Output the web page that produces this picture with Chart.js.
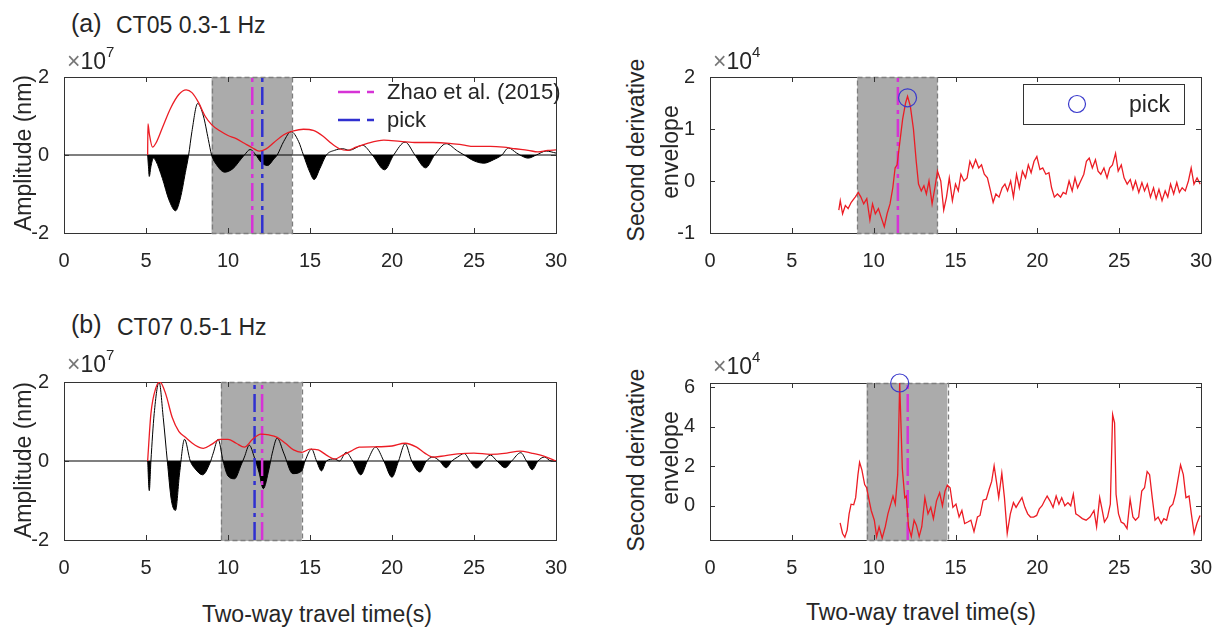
<!DOCTYPE html>
<html>
<head>
<meta charset="utf-8">
<title>CT05 / CT07 picks</title>
<script src="https://cdn.jsdelivr.net/npm/chart.js@4.4.1/dist/chart.umd.min.js"></script>
<style>
  body { margin: 0; background: #fff; }
  #fig { position: relative; width: 1219px; height: 629px; overflow: hidden; font-family: "Liberation Sans", Arial, Helvetica, sans-serif; color: #262626; }
  #fig canvas { position: absolute; }
  .t { position: absolute; white-space: nowrap; line-height: 1; }
  .c { transform: translate(-50%, -50%); }
  .l { transform: translateY(-50%); }
  .r { transform: translate(-50%, -50%) rotate(-90deg); }
  .x { color: #777; }
  #marks { position: absolute; left: 0; top: 0; }
</style>
</head>
<body>
<div id="fig">
  <canvas id="ct05Wave" width="572" height="215" style="left:4px;top:58px"></canvas>
  <canvas id="ct05Deriv" width="571" height="215" style="left:650px;top:58px"></canvas>
  <canvas id="ct07Wave" width="572" height="217" style="left:4px;top:363px"></canvas>
  <canvas id="ct07Deriv" width="571" height="216" style="left:650px;top:364px"></canvas>

  <!-- panel titles -->
  <div class="t l" style="left:71px;top:23px;font-size:25px">(a)</div>
  <div class="t l" style="left:116px;top:25px;font-size:23px">CT05 0.3-1 Hz</div>
  <div class="t l" style="left:71px;top:324px;font-size:25px">(b)</div>
  <div class="t l" style="left:117px;top:327px;font-size:23px">CT07 0.5-1 Hz</div>

  <!-- axis exponents -->
  <div class="t l" style="left:67px;top:61px;font-size:23px"><span class="x">×</span>10</div>
  <div class="t l" style="left:106px;top:51px;font-size:15px">7</div>
  <div class="t l" style="left:713px;top:61px;font-size:23px"><span class="x">×</span>10</div>
  <div class="t l" style="left:752px;top:51px;font-size:15px">4</div>
  <div class="t l" style="left:67px;top:364px;font-size:23px"><span class="x">×</span>10</div>
  <div class="t l" style="left:106px;top:354px;font-size:15px">7</div>
  <div class="t l" style="left:713px;top:366px;font-size:23px"><span class="x">×</span>10</div>
  <div class="t l" style="left:752px;top:356px;font-size:15px">4</div>

  <!-- axis titles -->
  <div class="t r" style="left:23px;top:153px;font-size:23px">Amplitude (nm)</div>
  <div class="t r" style="left:23px;top:460px;font-size:23px">Amplitude (nm)</div>
  <div class="t r" style="left:636px;top:150px;font-size:23px">Second derivative</div>
  <div class="t r" style="left:670px;top:152px;font-size:23px">envelope</div>
  <div class="t r" style="left:636px;top:460px;font-size:23px">Second derivative</div>
  <div class="t r" style="left:670px;top:458px;font-size:23px">envelope</div>
  <div class="t c" style="left:317px;top:614px;font-size:23px">Two-way travel time(s)</div>
  <div class="t c" style="left:921px;top:612px;font-size:23px">Two-way travel time(s)</div>

  <!-- legends -->
  <svg id="marks" width="1219" height="629">
    <line x1="338" y1="92" x2="375" y2="92" stroke="#d633d6" stroke-width="2.5" stroke-dasharray="22 7 7 20"/>
    <line x1="338" y1="120" x2="375" y2="120" stroke="#3030d0" stroke-width="2.5" stroke-dasharray="22 7 7 20"/>
    <rect x="1023.5" y="84.5" width="161" height="40" fill="#fff" stroke="#333" stroke-width="1"/>
    <circle cx="1077" cy="104" r="8.5" fill="none" stroke="#3a3acc" stroke-width="1.2"/>
  </svg>
  <div class="t l" style="left:387px;top:92px;font-size:22px">Zhao et al. (2015)</div>
  <div class="t l" style="left:387px;top:120px;font-size:22px">pick</div>
  <div class="t l" style="left:1129px;top:104px;font-size:23px">pick</div>
</div>

<script>
// tick positions
const ticksX = [0, 5, 10, 15, 20, 25, 30];
const ticksAmp = [-2, 0, 2];
const ticksDeriv05 = [-1, 0, 1, 2];
const ticksDeriv07 = [0, 2, 4, 6];
const rangeAmp = [-2, 2];
const rangeDeriv05 = [-1, 2];
const rangeDeriv07 = [-1.72, 6.21];

// CT05 0.3-1 Hz waveform (x1e7 nm)
const ct05Time = [5.1, 5.15, 5.2, 5.3, 5.45, 5.6, 6.0, 6.4, 6.8, 7.1, 7.4, 7.6, 7.8, 8.15, 8.5, 8.8, 9.0, 9.3, 9.8, 10.3,
  10.8, 11.0, 11.35, 11.7, 12.0, 12.4, 12.8, 13.0, 13.4, 13.85, 14.3, 14.6, 15.0, 15.25, 15.6, 16.0, 16.5, 17.0, 17.4, 18.2,
  18.8, 19.55, 20.1, 20.8, 21.4, 22.05, 22.6, 23.3, 24.0, 24.4, 25.0, 25.6, 26.2, 26.7, 27.1, 27.6, 27.8, 28.3, 28.8, 29.4, 30];
const ct05Trace = [0, -0.3, -0.55, -0.3, -0.08, -0.15, -0.6, -1.15, -1.43, -1.1, -0.45, 0, 0.6, 1.32, 1.0, 0.4, 0, -0.25, -0.44, -0.35,
  -0.1, 0, 0.14, 0, -0.18, -0.27, -0.1, 0, 0.35, 0.6, 0.35, 0, -0.45, -0.63, -0.35, 0, 0.12, 0.16, 0.12, 0.25,
  0, -0.38, 0, 0.33, 0, -0.33, 0, 0.29, 0.1, 0, -0.15, -0.21, -0.12, 0, 0.18, 0.05, 0, -0.08, 0, 0.1, 0.05];
const ct05EnvTime = [5.1, 5.12, 5.2, 5.4, 5.6, 6.0, 6.5, 7.0, 7.45, 7.8, 8.2, 8.6, 9.0, 9.5, 10.0, 10.5, 11.0, 11.5, 11.9, 12.3,
  12.8, 13.4, 14.0, 14.6, 15.2, 15.8, 16.3, 16.8, 17.3, 17.8, 18.5, 19.5, 20.5, 21.5, 22.5, 23.5, 24.3, 25.0, 26.0, 26.8,
  27.5, 28.3, 28.9, 29.5, 30];
const ct05Env = [0, 0.8, 0.55, 0.2, 0.3, 0.7, 1.2, 1.55, 1.67, 1.6, 1.35, 1.0, 0.78, 0.62, 0.5, 0.42, 0.3, 0.18, 0.1, 0.15,
  0.32, 0.52, 0.62, 0.66, 0.63, 0.48, 0.3, 0.16, 0.12, 0.2, 0.3, 0.38, 0.35, 0.32, 0.32, 0.3, 0.26, 0.22, 0.22, 0.2,
  0.16, 0.12, 0.08, 0.12, 0.13];
const ct05Window = [9, 13.9];
const ct05Zhao = 11.48;
const ct05Pick = 12.09;

// CT05 second derivative envelope (x1e4)
const ct05DerivTime = [7.87, 7.96, 8.1, 8.27, 8.44, 8.63, 8.87, 9.06, 9.22, 9.39, 9.58, 9.77, 9.93, 10.1, 10.29, 10.45, 10.65, 10.82, 11.0, 11.17,
  11.31, 11.43, 11.6, 11.77, 11.95, 12.07, 12.24, 12.43, 12.6, 12.74, 12.91, 13.07, 13.22, 13.38, 13.57, 13.74, 13.9, 14.1, 14.28, 14.45,
  14.62, 14.81, 15.0, 15.17, 15.33, 15.52, 15.71, 15.88, 16.05, 16.23, 16.42, 16.59, 16.76, 16.95, 17.14, 17.3, 17.47, 17.66, 17.85, 18.02,
  18.18, 18.37, 18.54, 18.73, 18.9, 19.09, 19.28, 19.45, 19.62, 19.8, 19.97, 20.16, 20.33, 20.52, 20.71, 20.87, 21.04, 21.23, 21.42, 21.58,
  21.75, 21.94, 22.13, 22.3, 22.46, 22.65, 22.84, 23.0, 23.17, 23.36, 23.55, 23.71, 23.88, 24.07, 24.26, 24.42, 24.59, 24.78, 24.94, 25.13,
  25.3, 25.49, 25.68, 25.84, 26.0, 26.2, 26.39, 26.55, 26.72, 26.91, 27.1, 27.26, 27.43, 27.62, 27.81, 27.97, 28.14, 28.33, 28.52, 28.68,
  28.85, 29.04, 29.23, 29.4, 29.57, 29.76, 29.95];
const ct05Deriv = [-0.56, -0.38, -0.63, -0.47, -0.53, -0.41, -0.31, -0.22, -0.31, -0.44, -0.34, -0.75, -0.44, -0.63, -0.53, -0.69, -0.88, -0.63, -0.44, -0.13,
  0.25, 0.31, 0.75, 1.19, 1.5, 1.63, 1.44, 1.0, 0.38, -0.06, -0.19, -0.09, -0.25, 0, -0.44, -0.13, 0.19, 0, -0.56, -0.31,
  0.06, -0.38, -0.06, -0.19, 0.13, 0, 0.06, 0.38, 0.25, 0.41, 0.25, 0.31, 0.13, 0.06, -0.19, -0.41, -0.25, -0.31, -0.13, -0.06,
  -0.19, 0, -0.31, 0.13, -0.13, 0.19, 0.06, 0.31, 0.16, 0.38, 0.47, 0.22, 0.25, 0.13, 0.16, -0.13, -0.31, -0.25, -0.31, -0.22,
  -0.25, 0, -0.19, 0.06, -0.13, 0, 0.13, 0.38, 0.44, 0.25, 0.41, 0.19, 0.13, 0.25, 0.06, 0.25, 0.31, 0.53, 0.19, 0.31,
  0.06, -0.06, 0.03, -0.16, 0, -0.22, -0.03, -0.19, -0.06, -0.31, -0.13, -0.34, -0.16, -0.38, -0.19, -0.31, -0.06, -0.25, -0.03, -0.22,
  -0.13, -0.19, 0, 0.25, -0.06, 0.06, -0.06];
const ct05PickMark = [12.07, 1.6];

// CT07 0.5-1 Hz waveform (x1e7 nm)
const ct07Time = [5.1, 5.2, 5.3, 5.5, 5.8, 6.05, 6.3, 6.55, 6.8, 7.05, 7.35, 7.7, 8.0, 8.45, 8.9, 9.1, 9.4, 9.7, 10.0, 10.4,
  10.8, 11.0, 11.3, 11.6, 11.9, 12.15, 12.5, 12.7, 13.0, 13.4, 13.95, 14.5, 14.7, 15.1, 15.4, 15.7, 16.0, 16.5, 16.8, 17.2,
  17.6, 18.1, 18.5, 19.0, 19.5, 20.0, 20.4, 20.8, 21.2, 21.7, 22.1, 22.5, 22.9, 23.3, 23.65, 24.0, 24.4, 24.75, 25.15, 25.6,
  26.0, 26.4, 26.9, 27.3, 27.85, 28.2, 28.55, 28.9, 29.3, 29.7, 30];
const ct07Trace = [0, -0.75, 0, 1.2, 2.0, 1.1, 0, -1.0, -1.25, -0.3, 0.55, 0, -0.2, -0.35, -0.05, 0.2, 0.55, 0, -0.38, -0.45,
  -0.1, 0.1, 0.4, 0.1, -0.3, -0.7, -0.2, 0.2, 0.58, 0.2, -0.32, -0.25, 0, 0.3, 0, -0.25, 0, 0.05, 0, 0.22,
  0, -0.35, 0, 0.35, 0, -0.41, 0, 0.44, 0, -0.28, 0, 0.1, 0, -0.17, 0, 0.1, 0.19, 0, -0.18, 0,
  0.15, 0, -0.17, 0, 0.21, 0, -0.22, 0, 0.1, 0, 0];
const ct07EnvTime = [5.1, 5.3, 5.6, 5.85, 6.2, 6.6, 7.0, 7.4, 8.0, 8.5, 9.0, 9.5, 10.0, 10.5, 11.0, 11.5, 12.0, 12.5, 13.0, 13.5,
  14.0, 14.5, 15.0, 15.5, 16.0, 16.5, 17.0, 17.5, 18.0, 19.0, 20.0, 20.8, 21.5, 22.0, 22.5, 23.0, 24.0, 25.0, 26.0, 27.0,
  27.8, 28.5, 29.3, 30];
const ct07Env = [0, 1.2, 1.85, 2.0, 1.7, 1.1, 0.75, 0.6, 0.4, 0.32, 0.42, 0.55, 0.55, 0.45, 0.35, 0.55, 0.68, 0.66, 0.6, 0.45,
  0.28, 0.22, 0.3, 0.28, 0.15, 0.05, 0.15, 0.25, 0.35, 0.36, 0.38, 0.45, 0.35, 0.2, 0.1, 0.12, 0.18, 0.2, 0.17, 0.2,
  0.25, 0.2, 0.12, 0];
const ct07Window = [9.57, 14.5];
const ct07Zhao = 12.08;
const ct07Pick = 11.62;

// CT07 second derivative envelope (x1e4)
const ct07DerivTime = [7.95, 8.1, 8.24, 8.38, 8.5, 8.62, 8.78, 8.9, 9.04, 9.14, 9.28, 9.45, 9.57, 9.69, 9.85, 10.04, 10.18, 10.33, 10.52, 10.71,
  10.87, 11.04, 11.18, 11.32, 11.47, 11.59, 11.75, 11.9, 11.99, 12.13, 12.3, 12.47, 12.61, 12.78, 12.94, 13.13, 13.32, 13.49, 13.65, 13.84,
  14.03, 14.2, 14.36, 14.5, 14.67, 14.84, 15.03, 15.22, 15.39, 15.56, 15.75, 15.94, 16.13, 16.34, 16.5, 16.69, 16.88, 17.05, 17.21, 17.36,
  17.5, 17.64, 17.83, 17.99, 18.16, 18.35, 18.54, 18.7, 18.87, 19.06, 19.24, 19.41, 19.58, 19.77, 19.96, 20.12, 20.29, 20.44, 20.6, 20.77,
  20.96, 21.15, 21.32, 21.49, 21.68, 21.87, 22.04, 22.2, 22.35, 22.51, 22.75, 22.98, 23.22, 23.46, 23.62, 23.81, 23.93, 24.1, 24.29, 24.46,
  24.6, 24.72, 24.81, 24.96, 25.12, 25.29, 25.48, 25.67, 25.84, 26.0, 26.19, 26.38, 26.55, 26.71, 26.86, 27.02, 27.19, 27.38, 27.57, 27.73,
  27.9, 28.09, 28.28, 28.44, 28.61, 28.75, 28.92, 29.08, 29.27, 29.41, 29.58, 29.75, 29.94];
const ct07Deriv = [-0.86, -1.39, -1.58, -1.22, -0.4, 0.09, 0.06, 0.42, 1.58, 2.2, 1.82, 1.08, 0.92, 0.42, -0.23, -0.72, -1.55, -1.05, -1.63, -1.05,
  -0.4, 0.09, 0.5, 0.09, 1.58, 6.21, 1.9, 0.42, 0.5, -1.05, -1.55, -0.72, -0.97, -1.55, -1.05, 0.42, -0.4, -0.07, -0.64, 0.26,
  0.67, 0.01, 0.75, 1.05, 0.92, -0.07, 0.09, -0.56, -0.23, -0.89, -0.81, -0.72, -1.3, -0.56, -0.48, 0.29, 0.34, 0.83, 1.24, 2.03,
  1.24, 0.42, 1.66, 0.42, -1.39, -0.4, 0.17, -0.07, 0.17, 0.42, -0.07, -0.4, -0.56, -0.56, -0.48, -0.15, 0.01, 0.26, 0.5, 0.26,
  -0.07, 0.5, 0.09, 0.42, 0.01, 0.17, 0.01, 0.59, -0.4, -0.48, -0.64, -0.72, -0.56, -0.23, -1.05, 0.42, -0.07, -0.81, -0.56, 0.09,
  4.62, 4.2, 0.59, -0.4, -0.81, -0.89, -1.14, 0.34, -0.56, -0.72, -0.56, 0.75, 0.92, 1.74, 1.58, 0.42, -0.72, -0.56, -0.89, -0.64,
  -0.72, -0.07, 0.09, 0.59, 1.41, 2.07, 1.58, 0.42, 0.5, -0.4, -1.39, -0.89, -0.48];
const ct07PickMark = [11.59, 6.21];

const RED = '#ec1c24';
const MAGENTA = '#d633d6';
const BLUE = '#3030d0';
const INK = '#262626';

Chart.defaults.font.family = '"Liberation Sans", Arial, Helvetica, sans-serif';
Chart.defaults.color = INK;

function pts(xs, ys) {
  return xs.map((x, i) => ({ x, y: ys[i] }));
}

function vline(x, range, color) {
  return {
    data: [{ x, y: range[0] }, { x, y: range[1] }],
    borderColor: color, borderWidth: 2.5, borderDash: [18, 5, 4, 5],
    pointRadius: 0, fill: false
  };
}

function trace(xs, ys) {
  return {
    data: pts(xs, ys), borderColor: '#000', borderWidth: 1, pointRadius: 0,
    cubicInterpolationMode: 'monotone',
    fill: { target: { value: 0 }, above: 'rgba(0,0,0,0)', below: '#000' }
  };
}

function envelope(xs, ys, smooth) {
  return {
    data: pts(xs, ys), borderColor: RED, borderWidth: 1.3, pointRadius: 0, fill: false,
    cubicInterpolationMode: smooth ? 'monotone' : 'default', tension: 0
  };
}

function zeroLine() {
  return {
    data: [{ x: ticksX[0], y: 0 }, { x: ticksX[ticksX.length - 1], y: 0 }],
    borderColor: '#000', borderWidth: 1.2, pointRadius: 0, fill: false
  };
}

function pickCircle(mark) {
  return {
    data: [{ x: mark[0], y: mark[1] }], showLine: false, clip: false,
    pointRadius: 9, pointBorderWidth: 1.2, pointBorderColor: '#3a3acc',
    pointBackgroundColor: 'rgba(0,0,0,0)'
  };
}

// axes box, grey pick window and inward tick marks, MATLAB style
const framePlugin = {
  id: 'frame',
  beforeDatasetsDraw(chart, args, opts) {
    const { ctx, chartArea: a, scales: { x } } = chart;
    ctx.save();
    ctx.strokeStyle = '#333';
    ctx.lineWidth = 1;
    ctx.strokeRect(a.left + 0.5, a.top + 0.5, a.width, a.height);
    const x0 = x.getPixelForValue(opts.window[0]);
    const x1 = x.getPixelForValue(opts.window[1]);
    ctx.fillStyle = '#ababab';
    ctx.fillRect(x0, a.top, x1 - x0, a.height + 1);
    ctx.setLineDash([5, 3]);
    ctx.strokeStyle = '#7d7d7d';
    ctx.lineWidth = 1.3;
    ctx.strokeRect(Math.round(x0) + 0.5, a.top + 0.5, Math.round(x1 - x0), a.height);
    ctx.restore();
  },
  afterDatasetsDraw(chart, args, opts) {
    const { ctx, chartArea: a, scales: { x, y } } = chart;
    ctx.save();
    ctx.strokeStyle = '#333';
    ctx.lineWidth = 1;
    ctx.beginPath();
    opts.xTicks.forEach(v => {
      const px = Math.round(x.getPixelForValue(v)) + 0.5;
      ctx.moveTo(px, a.bottom); ctx.lineTo(px, a.bottom - 5);
      ctx.moveTo(px, a.top); ctx.lineTo(px, a.top + 5);
    });
    opts.yTicks.forEach(v => {
      const py = Math.round(y.getPixelForValue(v)) + 0.5;
      ctx.moveTo(a.left, py); ctx.lineTo(a.left + 5, py);
      ctx.moveTo(a.right, py); ctx.lineTo(a.right - 5, py);
    });
    ctx.stroke();
    ctx.restore();
  }
};

function makePanel(id, range, yTicks, win, datasets) {
  return new Chart(document.getElementById(id), {
    type: 'line',
    data: { datasets },
    options: {
      animation: false,
      responsive: false,
      devicePixelRatio: 1,
      events: [],
      layout: { padding: { top: 15, right: 20, bottom: 0, left: 0 } },
      plugins: {
        legend: { display: false },
        tooltip: { enabled: false },
        frame: { window: win, xTicks: ticksX, yTicks }
      },
      scales: {
        x: {
          type: 'linear', min: ticksX[0], max: ticksX[ticksX.length - 1],
          grid: { display: false }, border: { display: false },
          afterBuildTicks: s => { s.ticks = ticksX.map(v => ({ value: v })); },
          afterFit: s => { s.height = 40; },
          ticks: { padding: 8, maxRotation: 0, autoSkip: false, color: INK, font: { size: 20 } }
        },
        y: {
          type: 'linear', min: range[0], max: range[1],
          grid: { display: false }, border: { display: false },
          afterBuildTicks: s => { s.ticks = yTicks.map(v => ({ value: v })); },
          afterFit: s => { s.width = 60; },
          ticks: { padding: 7, autoSkip: false, color: INK, font: { size: 20 }, callback: v => String(v) }
        }
      }
    },
    plugins: [framePlugin]
  });
}

makePanel('ct05Wave', rangeAmp, ticksAmp, ct05Window, [
  envelope(ct05EnvTime, ct05Env, true),
  vline(ct05Pick, rangeAmp, BLUE),
  vline(ct05Zhao, rangeAmp, MAGENTA),
  trace(ct05Time, ct05Trace),
  zeroLine()
]);

makePanel('ct05Deriv', rangeDeriv05, ticksDeriv05, ct05Window, [
  pickCircle(ct05PickMark),
  envelope(ct05DerivTime, ct05Deriv, false),
  vline(ct05Zhao, rangeDeriv05, MAGENTA)
]);

makePanel('ct07Wave', rangeAmp, ticksAmp, ct07Window, [
  envelope(ct07EnvTime, ct07Env, true),
  vline(ct07Zhao, rangeAmp, MAGENTA),
  vline(ct07Pick, rangeAmp, BLUE),
  trace(ct07Time, ct07Trace),
  zeroLine()
]);

makePanel('ct07Deriv', rangeDeriv07, ticksDeriv07, ct07Window, [
  pickCircle(ct07PickMark),
  envelope(ct07DerivTime, ct07Deriv, false),
  vline(ct07Zhao, rangeDeriv07, MAGENTA)
]);
</script>
</body>
</html>
